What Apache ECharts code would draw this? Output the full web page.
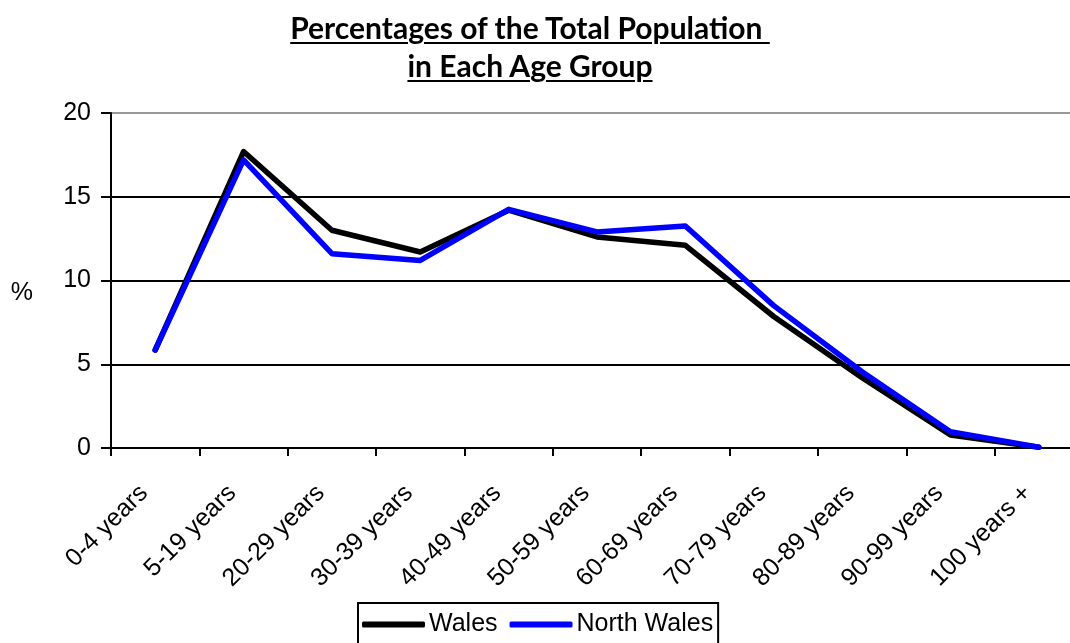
<!DOCTYPE html>
<html>
<head>
<meta charset="utf-8">
<script src="https://cdn.jsdelivr.net/npm/echarts@6/dist/echarts.min.js"></script>
<style>
  html, body { margin: 0; padding: 0; background: #fff; }
  #wrap { position: relative; width: 1070px; height: 643px; overflow: hidden; }
  /* 图表比窗口宽一些，最右边被裁掉（和原图一样） */
  #chart { width: 1100px; height: 643px; }
  .title {
    position: absolute; left: 0; width: 1060px; top: 8px;
    text-align: center; font-family: Lato, "Open Sans", sans-serif;
    font-weight: bold; font-size: 30px; line-height: 38px; color: #000;
    text-decoration: underline; text-decoration-thickness: 2px; text-underline-offset: 3px;
  }
</style>
</head>
<body>
<div id="wrap">
  <div id="chart"></div>
  <div class="title">Percentages of the Total Population&nbsp;<br>in Each Age Group</div>
</div>
<script>
// 年龄组
const ageGroups = ['0-4 years', '5-19 years', '20-29 years', '30-39 years', '40-49 years',
  '50-59 years', '60-69 years', '70-79 years', '80-89 years', '90-99 years', '100 years +'];

// 各组占总人口百分比
const walesValues = [5.85, 17.7, 13.0, 11.7, 14.2, 12.6, 12.1, 7.85, 4.2, 0.78, 0.05];
const northWalesValues = [5.85, 17.2, 11.6, 11.2, 14.25, 12.9, 13.25, 8.5, 4.55, 0.97, 0.05];

const chart = echarts.init(document.getElementById('chart'));

const axisFont = { fontFamily: '"Liberation Sans", Arial, sans-serif', fontSize: 25, color: '#000' };

const option = {
  animation: false,
  grid: {
    left: 111,
    top: 113,
    right: 17,
    bottom: 195
  },
  legend: {
    top: 603,
    left: 358,
    padding: [9, 5, 14, 4],
    borderColor: '#000',
    borderWidth: 2,
    icon: 'roundRect',
    itemWidth: 63,
    itemHeight: 6,
    itemGap: 12,
    textStyle: { ...axisFont, padding: [0, 0, 0, -1] },
    data: ['Wales', 'North Wales']
  },
  xAxis: {
    type: 'category',
    data: ageGroups,
    boundaryGap: true,
    axisLine: { lineStyle: { color: '#000', width: 2 } },
    axisTick: { show: true, length: 8, lineStyle: { color: '#000', width: 2 } },
    axisLabel: { ...axisFont, interval: 0, rotate: 45, margin: 30, padding: [0, 16, 0, 0] }
  },
  yAxis: {
    type: 'value',
    min: 0,
    max: 20,
    interval: 5,
    name: '%',
    nameLocation: 'middle',
    nameRotate: 0,
    nameGap: 78,
    nameTextStyle: { ...axisFont, verticalAlign: 'top' },
    axisLine: { show: true, lineStyle: { color: '#000', width: 2 } },
    axisTick: { show: true, length: 10, lineStyle: { color: '#000', width: 2 } },
    axisLabel: { ...axisFont, margin: 20 },
    splitLine: { lineStyle: { color: ['#000', '#000', '#000', '#000', '#999'], width: 2 } }
  },
  series: [
    {
      name: 'Wales',
      type: 'line',
      data: walesValues,
      showSymbol: false,
      itemStyle: { color: '#000' },
      lineStyle: { color: '#000', width: 5.5, join: 'round', cap: 'round' }
    },
    {
      name: 'North Wales',
      type: 'line',
      data: northWalesValues,
      showSymbol: false,
      itemStyle: { color: '#0000ff' },
      lineStyle: { color: '#0000ff', width: 5.5, join: 'round', cap: 'round' }
    }
  ]
};

chart.setOption(option);
</script>
</body>
</html>
